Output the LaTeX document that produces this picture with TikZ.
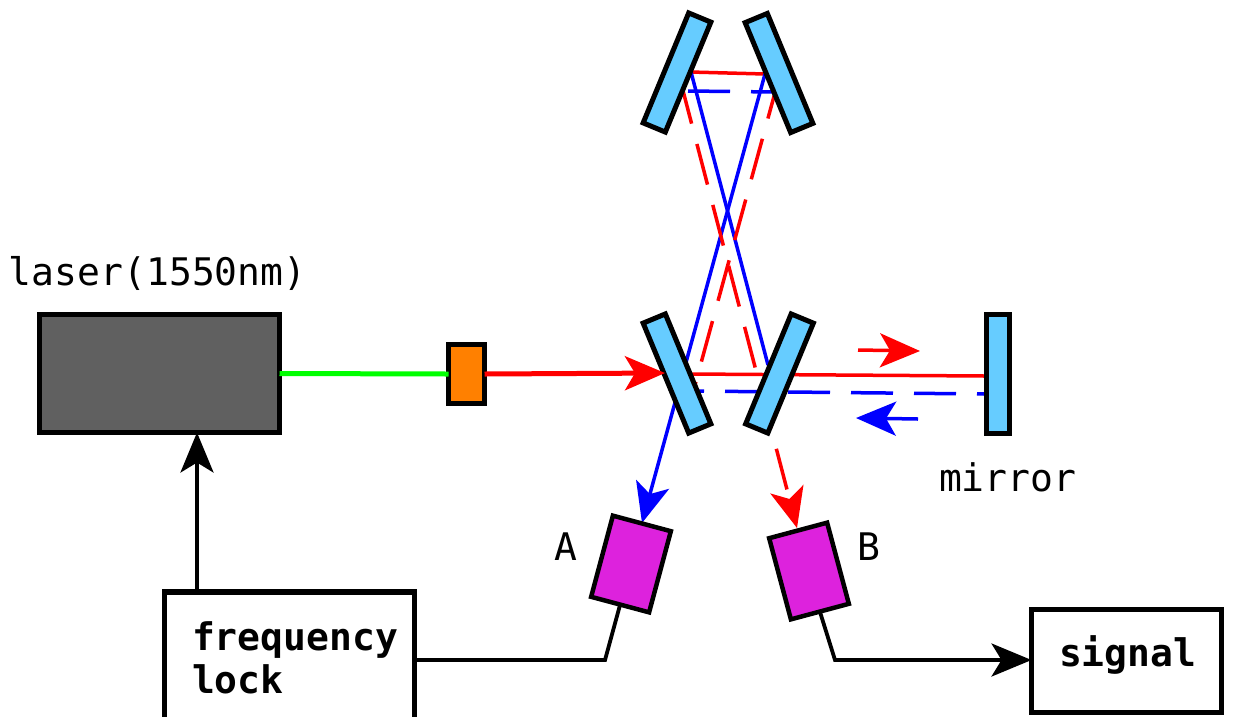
\documentclass[tikz,border=0pt]{standalone}
\usepackage{fontspec}
\setmainfont{DejaVu Sans Mono}
\usetikzlibrary{arrows.meta}
\definecolor{mirrorblue}{HTML}{66CCFF}
\definecolor{lasergray}{HTML}{606060}
\definecolor{detpurple}{HTML}{DD22DD}
\definecolor{isoorange}{HTML}{FF8000}
\tikzset{
  x=1pt,y=-1pt,
  mirrorbox/.style={draw=black,line width=5pt,fill=mirrorblue,minimum width=119pt,minimum height=24pt,inner sep=0pt,outer sep=0pt},
  detbox/.style={draw=black,line width=4.5pt,fill=detpurple,minimum width=60pt,minimum height=84pt,inner sep=0pt,outer sep=0pt},
  plainbox/.style={draw=black,line width=5.5pt,fill=white,inner sep=0pt,outer sep=0pt},
  lbl/.style={inner sep=0pt,outer sep=0pt,anchor=base west,font=\fontsize{38pt}{40pt}\selectfont},
  blbl/.style={lbl,font=\fontsize{38pt}{40pt}\selectfont\bfseries},
  bigtip/.tip={Stealth[length=40pt,width=34pt,inset=10pt]},
  beam/.style={line width=3.5pt},
  dashbeam/.style={line width=3.5pt,dash pattern=on 42pt off 21pt},
  wire/.style={draw=black,line width=3.8pt,line join=miter},
}
\begin{document}
\begin{tikzpicture}
\useasboundingbox (0,0) rectangle (1249,716);
\clip (0,0) rectangle (1249,716);
% named points of the beams
\coordinate (rTopL) at (690,72);
\coordinate (rTopR) at (765,74);
\coordinate (bTopL) at (688,91);
\coordinate (bTopR) at (775,92);
\coordinate (bTopL2) at (691,72);
\coordinate (bLowR) at (768,365);
\coordinate (rCavL) at (681,83);
\coordinate (rCavR) at (779,78);
\coordinate (rLowL) at (695,385);
\coordinate (rMainL) at (690,374);
\coordinate (bMainL) at (690,391);
\coordinate (rMainR) at (985,376);
\coordinate (bMainR) at (985,394);
\coordinate (aTip) at (642,523);
\coordinate (bTip) at (797,528);
\coordinate (rArrL) at (858,350);
\coordinate (rArrR) at (920,351);
\coordinate (bArrR) at (918,419);
\coordinate (bArrL) at (856,418);
\coordinate (kneeA) at (605,660);
\coordinate (kneeB) at (835,660);
\coordinate (feedX) at (197,500);
\coordinate (inTip) at (665,373);
% beams
\draw[red,beam] (rTopL) -- (rTopR);
\draw[blue,dashbeam] (bTopL) -- (bTopR);
\draw[blue,beam] (bTopL2) -- (bLowR);
\draw[blue,beam,-{bigtip}] (rTopR) -- (aTip);
\draw[red,dashbeam] (rCavR) -- (rLowL);
\draw[red,dashbeam,-{bigtip}] (rCavL) -- (bTip);
\draw[red,beam] (rMainL) -- (rMainR);
\draw[blue,dashbeam,dash phase=28pt] (bMainL) -- (bMainR);
\draw[red,beam,-{bigtip}] (rArrL) -- (rArrR);
\draw[blue,beam,-{bigtip}] (bArrR) -- (bArrL);
% mirrors
\node[mirrorbox,rotate=67.5] (m1) at (677,72.5) {};
\node[mirrorbox,rotate=-67.5] (m2) at (779,73) {};
\node[mirrorbox,rotate=-67.5] (m3) at (677,373.5) {};
\node[mirrorbox,rotate=67.5] (m4) at (779.5,373.5) {};
\node[draw=black,line width=5pt,fill=mirrorblue,minimum width=23pt,minimum height=119pt,inner sep=0pt,outer sep=0pt] (m5) at (997.5,373.5) {};
% laser and isolator
\node[draw=black,line width=5.5pt,fill=lasergray,minimum width=240pt,minimum height=118pt,inner sep=0pt,outer sep=0pt] (laser) at (159.5,373.5) {};
\node[draw=black,line width=5pt,fill=isoorange,minimum width=36pt,minimum height=59pt,inner sep=0pt,outer sep=0pt] (iso) at (466.5,374) {};
\draw[green,line width=5pt] (laser.east) -- (iso.west);
\draw[red,line width=5pt,-{bigtip}] (iso.east) -- (inTip);
% detectors
\node[detbox,rotate=-15] (detA) at (631,564) {};
\node[detbox,rotate=15] (detB) at (809,571) {};
% boxes
\node[plainbox,minimum width=250pt,minimum height=140pt] (lock) at (289.5,662) {};
\node[plainbox,minimum width=190pt,minimum height=103pt] (sig) at (1126.5,661) {};
% connectors
\draw[wire,-{Stealth[length=40pt,width=33pt,inset=10pt]}] (feedX |- lock.north) -- (feedX |- laser.south);
\draw[wire] (detA.south) -- (kneeA) -- (lock.east |- kneeA);
\draw[wire,-{Stealth[length=40pt,width=33pt,inset=10pt]}] (detB.south) -- (kneeB) -- (sig.west |- kneeB);
% labels
\node[lbl] (tLaser) at (9,285) {laser(1550nm)};
\node[lbl] (tMirror) at (939,491) {mirror};
\node[lbl] (tA) at (554,560) {A};
\node[lbl] (tB) at (857,560) {B};
\node[blbl] (tFreq) at (192,650) {frequency};
\node[blbl] (tLock) at (192,693) {lock};
\node[blbl] (tSig) at (1059,666) {signal};
\end{tikzpicture}
\end{document}
